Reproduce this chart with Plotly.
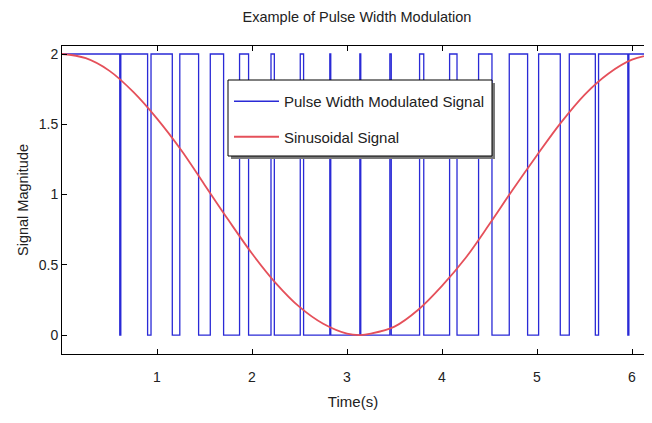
import plotly.graph_objects as go

# --- data ---
# PWM signal: high (2) except during these low (0) intervals [start, end] in seconds
low_start = [0.608, 0.901, 1.161, 1.438, 1.701, 1.964, 2.235, 2.543, 2.829, 3.145,
             3.466, 3.808, 4.158, 4.526, 4.901, 5.245, 5.614, 5.956]
low_end   = [0.619, 0.937, 1.240, 1.561, 1.869, 2.200, 2.508, 2.819, 3.135, 3.451,
             3.764, 4.080, 4.385, 4.708, 5.017, 5.340, 5.648, 5.967]
high_level = 2
low_level = 0
t_start = 0.0
t_end = 6.283

# Sinusoidal reference signal
sin_t = [0.0, 0.25, 0.5, 0.75, 1.0, 1.25, 1.5, 1.75, 2.0, 2.25, 2.5, 2.75, 3.0,
         3.14, 3.25, 3.5, 3.75, 4.0, 4.25, 4.5, 4.75, 5.0, 5.25, 5.5, 5.75, 6.0, 6.25]
sin_v = [2.00, 1.97, 1.88, 1.73, 1.54, 1.32, 1.07, 0.82, 0.58, 0.37, 0.20, 0.08, 0.01,
         0.00, 0.01, 0.06, 0.18, 0.35, 0.55, 0.79, 1.04, 1.28, 1.51, 1.71, 1.86, 1.96, 2.00]

x_ticks = [1, 2, 3, 4, 5, 6]
y_ticks = [0, 0.5, 1, 1.5, 2]
y_tick_labels = ["0", "0.5", "1", "1.5", "2"]

title_text = "Example of Pulse Width Modulation"
x_title = "Time(s)"
y_title = "Signal Magnitude"
name_pwm = "Pulse Width Modulated Signal"
name_sin = "Sinusoidal Signal"

# build step trace from the read edges
pwm_x = [t_start]
pwm_y = [high_level]
for s, e in zip(low_start, low_end):
    pwm_x += [s, s, e, e]
    pwm_y += [high_level, low_level, low_level, high_level]
pwm_x.append(t_end)
pwm_y.append(high_level)

FONT = "Liberation Sans Narrow, Liberation Sans, Arial, sans-serif"

fig = go.Figure()
fig.add_trace(go.Scatter(x=pwm_x, y=pwm_y, mode="lines", name=name_pwm,
                         line=dict(color="#2a2ad6", width=1.3), legendgroup="a"))
fig.add_trace(go.Scatter(x=sin_t, y=sin_v, mode="lines", name=name_sin,
                         line=dict(color="#e5505a", width=1.8, shape="spline"),
                         legendgroup="b"))

# the page body has an 8px margin; keep the figure inside the window
OFF = 8
W, H = 636, 407
ml, mr, mt, mb = 54, 0, 38, 61
PW, PH = W - ml - mr, H - mt - mb


def px_x(p):  # page x -> paper x
    return (p - OFF - ml) / PW


def px_y(p):  # page y -> paper y
    return 1 - (p - OFF - mt) / PH


# legend box with shadow (MATLAB style)
shapes = [
    dict(type="rect", xref="paper", yref="paper", layer="above",
         x0=px_x(231), x1=px_x(495), y0=px_y(159), y1=px_y(83),
         fillcolor="#7a7a7a", line=dict(width=0)),
    dict(type="rect", xref="paper", yref="paper", layer="above",
         x0=px_x(228), x1=px_x(492), y0=px_y(156), y1=px_y(80),
         fillcolor="white", line=dict(color="black", width=1)),
]

fig.update_layout(
    width=W, height=H,
    margin=dict(l=ml, r=mr, t=mt, b=mb),
    paper_bgcolor="white", plot_bgcolor="white",
    font=dict(family=FONT, size=14, color="#222"),
    title=dict(text=title_text, x=(ml + W + 8) / 2 / W, xanchor="center",
               y=1 - 9 / H, yanchor="middle", font=dict(size=14.5, color="#222")),
    showlegend=True,
    shapes=shapes,
    legend=dict(x=px_x(229), y=px_y(85),
                xanchor="left", yanchor="top",
                bgcolor="rgba(0,0,0,0)", borderwidth=0,
                font=dict(size=15, family=FONT, color="#222"),
                itemwidth=45,
                tracegroupgap=13, traceorder="grouped"),
    xaxis=dict(range=[0, PW / 95.0], tickvals=x_ticks,
               ticks="inside", ticklen=5, tickcolor="black",
               showline=True, linecolor="black", linewidth=1, mirror="ticks",
               showgrid=False, zeroline=False, ticklabelstandoff=10,
               title=dict(text=x_title, standoff=12, font=dict(size=15)),
               tickfont=dict(size=14)),
    yaxis=dict(range=[-0.135, 2.057], tickvals=y_ticks, ticktext=y_tick_labels,
               ticks="inside", ticklen=5, tickcolor="black",
               showline=True, linecolor="black", linewidth=1, mirror=False,
               showgrid=False, zeroline=False,
               title=dict(text=y_title, standoff=6, font=dict(size=14.5)),
               tickfont=dict(size=14)),
)

fig.write_html("out.html")
